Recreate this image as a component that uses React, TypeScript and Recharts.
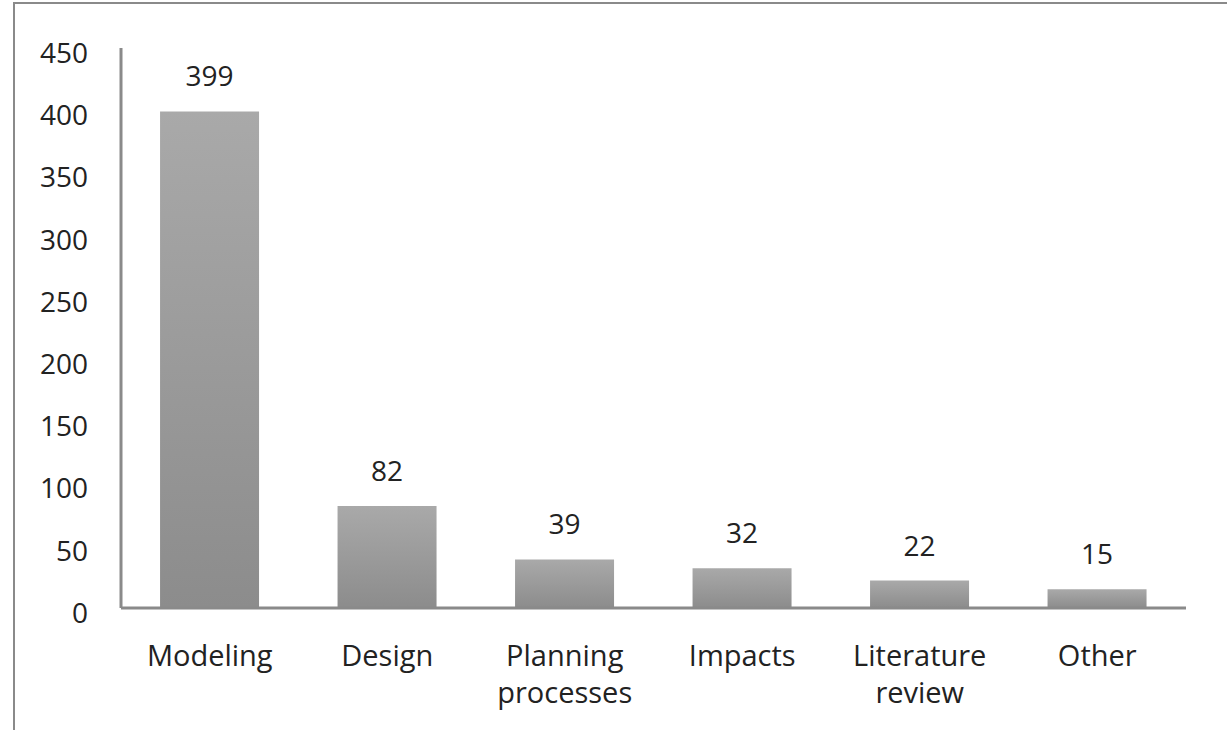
import { BarChart, Bar, XAxis, YAxis, LabelList } from "recharts";

const categories = ["Modeling", "Design", "Planning processes", "Impacts", "Literature review", "Other"];
const counts = [399, 82, 39, 32, 22, 15];
const yTicks = [0, 50, 100, 150, 200, 250, 300, 350, 400, 450];

const data = categories.map((name, i) => ({ name, count: counts[i] }));

const FONT = "'Open Sans', 'Liberation Sans', sans-serif";
const TEXT = "#222";

// category labels wrap onto two lines
function CategoryTick(props: any) {
  const { x, y, payload } = props;
  const words: string[] = String(payload.value).split(" ");
  return (
    <text x={x} y={y} textAnchor="middle" fill={TEXT} fontSize={29} fontFamily={FONT}>
      {words.map((w, i) => (
        <tspan key={i} x={x} dy={i === 0 ? 56 : 37}>
          {w}
        </tspan>
      ))}
    </text>
  );
}

export default function App() {
  return (
    <div
      style={{
        position: "absolute",
        left: 0,
        top: 0,
        width: 1227,
        height: 730,
        background: "#fff",
        overflow: "hidden",
      }}
    >
      <div
        style={{
          position: "absolute",
          left: 13,
          top: 2,
          width: 1220,
          height: 740,
          borderTop: "2px solid #8a8a8a",
          borderLeft: "2px solid #8a8a8a",
        }}
      />
      <BarChart
        width={1227}
        height={730}
        data={data}
        margin={{ top: 48, right: 41, left: 0, bottom: 92 }}
        barCategoryGap="22%"
        style={{ position: "absolute", left: 0, top: 0 }}
      >
        <defs>
          <linearGradient id="barFill" x1="0" y1="0" x2="0" y2="1">
            <stop offset="0%" stopColor="#a9a9a9" />
            <stop offset="100%" stopColor="#8c8c8c" />
          </linearGradient>
        </defs>
        <XAxis
          dataKey="name"
          tickLine={false}
          tickSize={0}
          interval={0}
          axisLine={{ stroke: "#8a8a8a", strokeWidth: 3 }}
          tick={<CategoryTick />}
        />
        <YAxis
          width={121}
          domain={[0, 450]}
          ticks={yTicks}
          interval={0}
          tickLine={false}
          tickSize={0}
          tickMargin={33}
          axisLine={{ stroke: "#8a8a8a", strokeWidth: 3 }}
          tick={{ fill: TEXT, fontSize: 28, fontFamily: FONT, dy: 5 }}
        />
        <Bar dataKey="count" fill="url(#barFill)" isAnimationActive={false}>
          <LabelList
            dataKey="count"
            position="top"
            offset={25}
            fill={TEXT}
            fontSize={28}
            fontFamily={FONT}
          />
        </Bar>
      </BarChart>
    </div>
  );
}
